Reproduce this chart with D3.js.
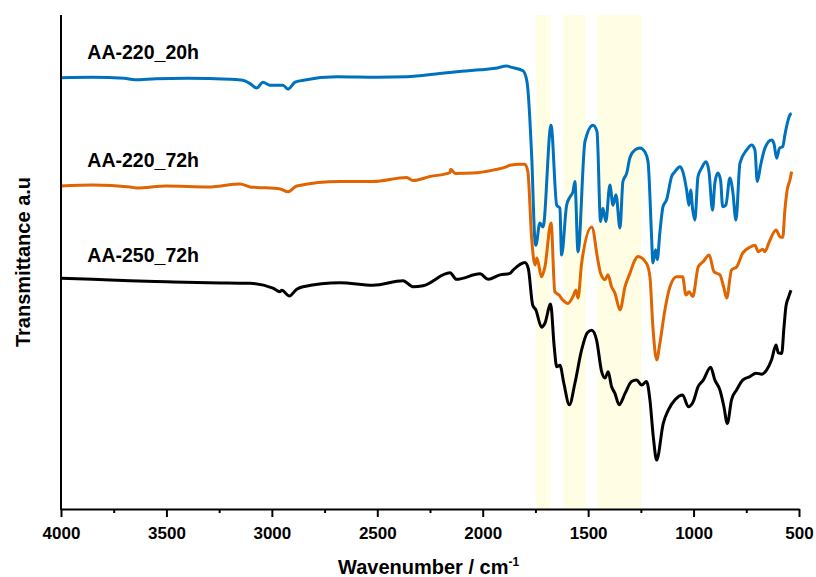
<!DOCTYPE html>
<html>
<head>
<meta charset="utf-8">
<script src="https://cdn.jsdelivr.net/npm/d3@7"></script>
<style>
  body { margin: 0; background: #fff; }
  text { font-family: "Liberation Sans", Arial, sans-serif; font-weight: bold; }
</style>
</head>
<body>
<svg id="chart"></svg>
<script>
// FTIR spectra, wavenumber (cm-1) vs transmittance (a.u., offset traces)
const seriesNames = ["AA-220_20h", "AA-220_72h", "AA-250_72h"]
const seriesColors = ["#0072bd", "#e06400", "#000000"]

const aa220_20h = [
  [4000, 87.3], [3850, 87.4], [3700, 87.2], [3650, 86.9], [3550, 87.1], [3400, 87.2],
  [3200, 87.0], [3137, 86.8], [3100, 86.0], [3072, 85.2], [3042, 86.4], [3009, 85.8],
  [2960, 85.8], [2947, 85.8], [2924, 85.0], [2890, 86.4], [2850, 86.8], [2691, 87.5],
  [2500, 87.4], [2359, 87.5], [2300, 87.7], [2170, 88.3], [2100, 88.6], [2013, 88.9],
  [1940, 89.2], [1886, 89.7], [1871, 89.5], [1809, 88.7], [1790, 86.5], [1768, 71.7],
  [1752, 54.1], [1748, 53.4], [1729, 57.9], [1714, 57.1], [1676, 77.7], [1649, 61.5],
  [1634, 60.9], [1626, 51.4], [1602, 61.5], [1586, 63.2], [1572, 64.2], [1563, 66.3],
  [1548, 52.1], [1515, 74.4], [1477, 77.7], [1458, 76.4], [1441, 58.2], [1430, 60.9],
  [1416, 58.2], [1397, 65.6], [1382, 61.5], [1368, 63.6], [1349, 56.9], [1335, 66.3],
  [1317, 68.0], [1302, 71.1], [1278, 72.7], [1254, 73.1], [1231, 72.3], [1216, 70.3],
  [1199, 55.0], [1193, 49.8], [1180, 52.5], [1172, 50.5], [1160, 55.9], [1145, 61.2],
  [1128, 62.6], [1104, 67.3], [1088, 68.3], [1065, 69.3], [1051, 68.3], [1033, 64.6],
  [1022, 61.5], [1014, 64.6], [1004, 60.5], [994, 58.5], [979, 67.3], [962, 69.0],
  [941, 70.3], [927, 68.3], [910, 60.5], [899, 66.0], [885, 68.0], [872, 66.6],
  [862, 61.2], [847, 61.5], [828, 67.0], [815, 64.6], [799, 58.5], [780, 70.0],
  [748, 72.7], [725, 73.7], [709, 72.7], [698, 66.3], [682, 69.6], [662, 73.0],
  [630, 74.7], [619, 74.0], [606, 71.0], [593, 73.0], [577, 73.4], [567, 75.7],
  [559, 77.4], [543, 79.8], [535, 80.1]
]

const aa220_72h = [
  [4000, 65.4], [3850, 65.6], [3673, 65.2], [3641, 65.0], [3500, 65.4], [3300, 65.2],
  [3151, 65.8], [3104, 65.2], [3072, 65.1], [2960, 64.8], [2924, 64.2], [2882, 65.4],
  [2677, 66.3], [2520, 66.3], [2361, 67.1], [2331, 66.5], [2250, 67.3], [2155, 68.1],
  [2152, 68.8], [2130, 67.9], [2046, 68.0], [1951, 68.6], [1886, 69.3], [1871, 69.6],
  [1823, 69.8], [1800, 69.8], [1786, 68.3], [1768, 54.9], [1752, 49.4], [1743, 50.8],
  [1721, 47.0], [1705, 49.0], [1676, 57.9], [1658, 44.0], [1638, 43.3], [1620, 42.3],
  [1596, 41.6], [1572, 43.0], [1558, 44.3], [1548, 42.7], [1531, 49.7], [1483, 57.1],
  [1454, 50.4], [1441, 47.7], [1420, 46.4], [1406, 47.4], [1389, 45.0], [1373, 43.7],
  [1349, 40.3], [1325, 45.0], [1302, 47.7], [1278, 50.4], [1264, 51.1], [1223, 49.7],
  [1207, 47.0], [1193, 36.9], [1175, 30.2], [1160, 33.5], [1136, 40.3], [1112, 45.0],
  [1080, 47.0], [1052, 47.0], [1036, 43.3], [1021, 44.0], [1004, 43.0], [978, 49.0],
  [954, 50.1], [926, 51.4], [903, 48.0], [875, 47.4], [856, 44.7], [843, 42.7],
  [820, 48.4], [796, 49.0], [767, 51.8], [733, 53.0], [709, 53.4], [693, 52.1],
  [672, 52.6], [662, 52.1], [641, 54.1], [609, 56.5], [590, 55.1], [577, 55.0],
  [567, 60.5], [556, 64.6], [543, 66.6], [535, 68.3]
]

const aa250_72h = [
  [4000, 46.7], [3850, 46.5], [3673, 46.2], [3500, 46.0], [3300, 45.8], [3104, 45.7],
  [2995, 44.7], [2961, 44.0], [2953, 44.3], [2917, 43.1], [2882, 44.5], [2852, 45.0],
  [2677, 45.8], [2520, 45.3], [2378, 46.2], [2331, 45.0], [2283, 45.2], [2155, 47.8],
  [2124, 46.5], [2013, 47.6], [1974, 46.5], [1918, 47.4], [1871, 47.7], [1855, 48.4],
  [1800, 49.9], [1784, 48.7], [1763, 41.3], [1748, 40.3], [1721, 36.8], [1705, 37.6],
  [1678, 41.5], [1661, 32.9], [1649, 28.8], [1634, 29.1], [1615, 25.4], [1589, 21.1],
  [1563, 25.4], [1531, 32.2], [1504, 35.7], [1483, 36.2], [1460, 34.2], [1436, 27.8],
  [1420, 26.5], [1405, 27.8], [1389, 24.8], [1373, 23.4], [1353, 21.1], [1325, 23.4],
  [1294, 25.8], [1270, 26.1], [1246, 25.1], [1223, 25.8], [1207, 22.1], [1191, 14.6],
  [1175, 9.9], [1144, 17.3], [1120, 20.0], [1088, 22.1], [1052, 23.1], [1025, 20.7],
  [1002, 21.7], [978, 24.8], [954, 26.1], [919, 28.7], [899, 26.1], [875, 24.1],
  [856, 20.7], [840, 17.3], [820, 22.1], [796, 24.1], [767, 26.1], [733, 26.8],
  [704, 27.5], [677, 27.3], [654, 28.1], [630, 30.2], [609, 33.2], [598, 31.6],
  [582, 31.5], [571, 36.9], [562, 41.0], [551, 42.7], [538, 44.3]
]

const seriesData = [aa220_20h, aa220_72h, aa250_72h]
// label y position (a.u.) for each trace
const labelValues = [91.0, 69.2, 49.9]

// highlighted bands [from, to] in cm-1
const bands = [[1748, 1680], [1618, 1512], [1456, 1247]]

const majorTicks = [4000, 3500, 3000, 2500, 2000, 1500, 1000, 500]
const minorTicks = [3750, 3250, 2750, 2250, 1750, 1250, 750]

const width = 816
const height = 577
const margin = { top: 15, right: 17, bottom: 68, left: 61 }

const svg = d3.select("#chart").attr("width", width).attr("height", height)

const x = d3.scaleLinear().domain([4000, 500]).range([margin.left, width - margin.right])
const y = d3.scaleLinear().domain([0, 100]).range([height - margin.bottom, margin.top])

// bands
svg.append("g")
  .selectAll("rect")
  .data(bands)
  .join("rect")
  .attr("x", (d) => x(d[0]))
  .attr("width", (d) => x(d[1]) - x(d[0]))
  .attr("y", y(100))
  .attr("height", y(0) - y(100))
  .attr("fill", "#fffde4")

// spectra
const line = d3.line()
  .x((d) => x(d[0]))
  .y((d) => y(d[1]))
  .curve(d3.curveMonotoneX)

svg.append("g")
  .selectAll("path")
  .data(seriesData)
  .join("path")
  .attr("d", line)
  .attr("fill", "none")
  .attr("stroke", (d, i) => seriesColors[i])
  .attr("stroke-width", 3)
  .attr("stroke-linejoin", "round")

// trace labels
svg.append("g")
  .selectAll("text")
  .data(seriesNames)
  .join("text")
  .attr("x", x(3875))
  .attr("y", (d, i) => y(labelValues[i]))
  .attr("font-size", 19.5)
  .attr("fill", "#000")
  .text((d) => d)

// x axis
const xAxis = svg.append("g")
  .attr("transform", `translate(0,${y(0)})`)
  .call(d3.axisBottom(x).tickValues(majorTicks).tickSize(8).tickSizeOuter(0).tickPadding(10).tickFormat(d3.format("d")))
xAxis.select(".domain").attr("stroke-width", 2)
xAxis.selectAll(".tick line").attr("stroke-width", 2)
xAxis.selectAll("text").attr("font-size", 17).attr("fill", "#000")

const xMinor = svg.append("g")
  .attr("transform", `translate(0,${y(0)})`)
  .call(d3.axisBottom(x).tickValues(minorTicks).tickSize(4).tickSizeOuter(0).tickFormat(""))
xMinor.select(".domain").remove()
xMinor.selectAll(".tick line").attr("stroke-width", 2)

// y axis: line only
svg.append("line")
  .attr("x1", x(4000)).attr("x2", x(4000))
  .attr("y1", y(100)).attr("y2", y(0) + 1)
  .attr("stroke", "#000")
  .attr("stroke-width", 2)

// axis titles
const xTitle = svg.append("text")
  .attr("x", 338)
  .attr("y", 574)
  .attr("font-size", 20)
xTitle.append("tspan").text("Wavenumber / cm")
xTitle.append("tspan").attr("font-size", 12).attr("dy", -8).text("-1")

svg.append("text")
  .attr("transform", `translate(30,${(y(0) + y(100)) / 2}) rotate(-90)`)
  .attr("text-anchor", "middle")
  .attr("font-size", 20)
  .text("Transmittance a.u")
</script>
</body>
</html>
